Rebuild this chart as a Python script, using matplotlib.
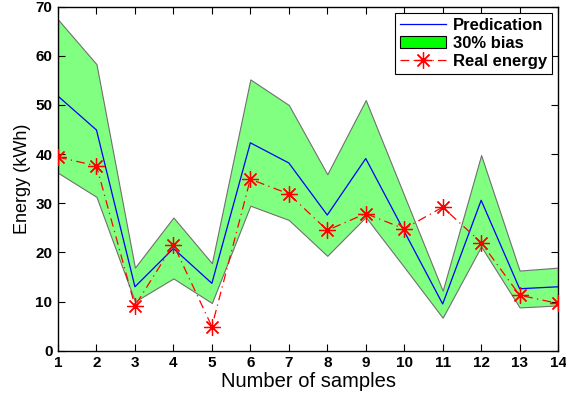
import matplotlib
matplotlib.use("Agg")
import matplotlib.pyplot as plt
from matplotlib.patches import Patch
from matplotlib.lines import Line2D

samples = [1, 2, 3, 4, 5, 6, 7, 8, 9, 10, 11, 12, 13, 14]
prediction = [51.8, 44.9, 13.0, 20.8, 13.7, 42.3, 38.2, 27.6, 39.1, 24.3, 9.5, 30.6, 12.6, 13.0]
upper_bias = [67.4, 58.3, 16.9, 27.1, 17.8, 55.2, 50.0, 35.9, 51.0, 31.6, 12.2, 39.8, 16.3, 16.9]
lower_bias = [36.2, 31.3, 10.0, 14.7, 9.7, 29.5, 26.6, 19.3, 27.2, 17.0, 6.7, 21.2, 8.8, 9.2]
real_energy = [39.4, 37.6, 9.1, 21.6, 4.9, 34.9, 31.9, 24.5, 27.9, 24.8, 29.2, 22.0, 11.3, 9.6]

plt.rcParams['font.family'] = ['Liberation Sans', 'DejaVu Sans']

fig = plt.figure(figsize=(5.66, 3.94), dpi=100)
ax = fig.add_axes([0.1025, 0.11, 0.8835, 0.873])

dash = (0, (7, 3.5, 1, 3.5))
ast = (8, 2, 0)

ax.fill_between(samples, lower_bias, upper_bias, facecolor='#80ff80',
                edgecolor='#707070', linewidth=0.8, zorder=1)
ax.plot(samples, prediction, color='#0000ff', linewidth=0.9, zorder=2)
ax.plot(samples, real_energy, color='#ff0000', linestyle=dash,
        linewidth=0.9, marker=ast, markersize=12, markeredgewidth=0.9,
        markeredgecolor='#ff0000', zorder=3)

ax.set_xlim(1, 14)
ax.set_ylim(0, 70)
ax.set_xticks(samples)
ax.set_yticks(range(0, 71, 10))
ax.tick_params(direction='in', top=True, right=True, length=5, width=0.8,
               labelsize=11, pad=4)
for lab in ax.get_xticklabels() + ax.get_yticklabels():
    lab.set_fontweight('bold')
for s in ax.spines.values():
    s.set_linewidth(1.0)

ax.set_xlabel('Number of samples', fontsize=14.5, labelpad=1)
ax.set_ylabel('Energy (kWh)', fontsize=13, labelpad=3)

handles = [
    Line2D([], [], color='#0000ff', linewidth=0.9),
    Patch(facecolor='#00ff00', edgecolor='black', linewidth=0.8),
    Line2D([], [], color='#ff0000', linestyle=dash, linewidth=0.9,
           marker=ast, markersize=12, markeredgewidth=0.9),
]
leg = ax.legend(handles, ['Predication', '30% bias', 'Real energy'],
                loc='upper right', prop={'weight': 'bold', 'size': 12},
                fancybox=False, edgecolor='black', framealpha=1,
                borderpad=0.3, labelspacing=0.2, handlelength=2.8,
                handletextpad=0.4, borderaxespad=0.35)
leg.get_frame().set_linewidth(0.8)

fig.savefig('out.png', dpi=100)
